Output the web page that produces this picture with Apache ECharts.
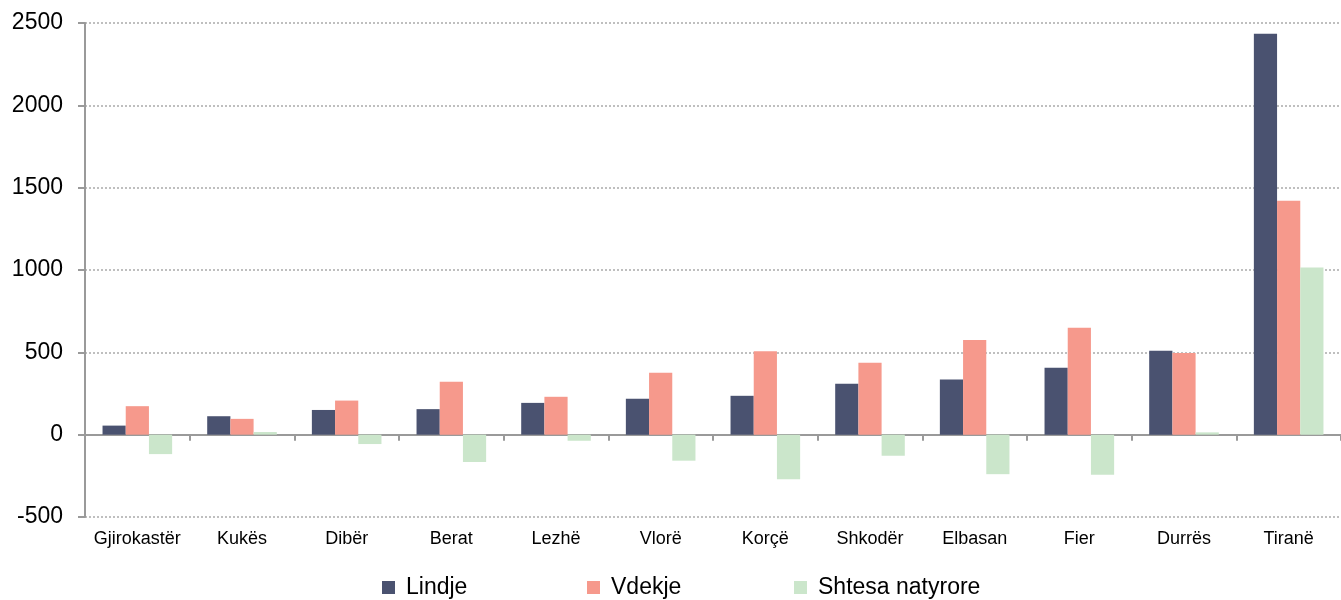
<!DOCTYPE html>
<html>
<head>
<meta charset="utf-8">
<script src="https://cdn.jsdelivr.net/npm/echarts@6/dist/echarts.min.js"></script>
<style>html,body{margin:0;padding:0;background:#fff}#c{width:1341px;height:600px}</style>
</head>
<body>
<div id="c"></div>
<script>
var categories = ["Gjirokastër","Kukës","Dibër","Berat","Lezhë","Vlorë","Korçë","Shkodër","Elbasan","Fier","Durrës","Tiranë"];
var lindje = [55,112,150,155,193,218,236,309,335,407,510,2435];
var vdekje = [173,96,207,321,230,376,506,437,575,650,496,1420];
var shtesa = [-118,16,-57,-166,-37,-158,-270,-128,-240,-243,14,1015];
var seriesNames = ["Lindje","Vdekje","Shtesa natyrore"];
var colors = ["#4a5270","#f6998c","#cbe6cb"];

var font = "Liberation Sans, Arial, sans-serif";
var chart = echarts.init(document.getElementById('c'));
function leg(name, left) {
  return {
    data: [name], left: left, top: 576, padding: 0, itemWidth: 13, itemHeight: 13, itemGap: 0,
    icon: 'rect', selectedMode: false,
    textStyle: {fontFamily: font, fontSize: 23, lineHeight: 23, color: '#000', padding: [0,0,0,6]}
  };
}
chart.setOption({
  animation: false,
  color: colors,
  legend: [leg(seriesNames[0], 382), leg(seriesNames[1], 587), leg(seriesNames[2], 794)],
  grid: {left: 85, top: 23, width: 1265, height: 494, containLabel: false},
  xAxis: [{
    type: 'category', data: categories, position: 'bottom',
    axisLine: {onZero: true, lineStyle: {color: '#9a9a9a', width: 2}},
    axisTick: {show: true, length: 6, lineStyle: {color: '#9a9a9a', width: 2}},
    axisLabel: {show: false}
  }, {
    type: 'category', data: categories, position: 'bottom',
    axisLine: {show: false, onZero: false},
    axisTick: {show: false},
    axisLabel: {show: true, interval: 0, margin: 13, fontFamily: font, fontSize: 18, color: '#000'}
  }],
  yAxis: {
    type: 'value', min: -500, max: 2500, interval: 500,
    axisLine: {show: true, lineStyle: {color: '#9a9a9a', width: 2}},
    axisTick: {show: true, length: 7, lineStyle: {color: '#9a9a9a', width: 2}},
    axisLabel: {margin: 22, fontFamily: font, fontSize: 23, color: '#000', formatter: function (v) { return String(v); }},
    splitLine: {show: true, lineStyle: {color: '#aaaaaa', type: [2, 2], width: 1.5}}
  },
  series: [
    {name: seriesNames[0], type: 'bar', data: lindje, barGap: '0%', barCategoryGap: '33.5%', xAxisIndex: 0},
    {name: seriesNames[1], type: 'bar', data: vdekje, barGap: '0%', barCategoryGap: '33.5%', xAxisIndex: 0},
    {name: seriesNames[2], type: 'bar', data: shtesa, barGap: '0%', barCategoryGap: '33.5%', xAxisIndex: 0}
  ]
});
</script>
</body>
</html>
